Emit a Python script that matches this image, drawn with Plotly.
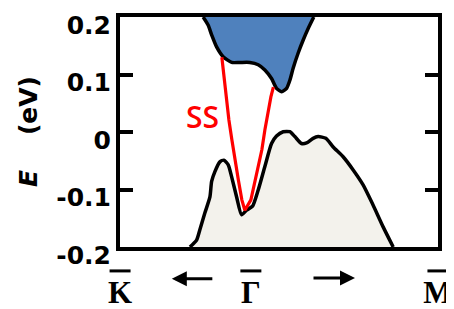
import plotly.graph_objects as go

# ---- data (k in arbitrary units with Gamma at 0, E in eV) ----
k_ticks = [-1.0, 0.0, 1.43]
k_labels = ["K", "Γ", "M"]
e_ticks = [-0.2, -0.1, 0.0, 0.1, 0.2]
e_labels = ["-0.2", "-0.1", "0", "0.1", "0.2"]

# bulk valence band edge
vb_k = [-0.466, -0.415, -0.390, -0.352, -0.313, -0.300, -0.275, -0.237, -0.206,
        -0.173, -0.147, -0.109, -0.071, -0.033, 0.013, 0.056, 0.107, 0.158,
        0.196, 0.247, 0.298, 0.336, 0.387, 0.426, 0.476, 0.514, 0.573, 0.629,
        0.705, 0.782, 0.858, 0.934, 1.011, 1.088]
vb_e = [-0.200, -0.188, -0.170, -0.141, -0.113, -0.086, -0.069, -0.052, -0.049,
        -0.057, -0.078, -0.113, -0.144, -0.136, -0.129, -0.101, -0.060, -0.020,
        -0.007, 0.0005, 0.0005, -0.008, -0.020, -0.019, -0.011, -0.008, -0.011,
        -0.026, -0.043, -0.066, -0.092, -0.127, -0.165, -0.200]

# bulk conduction band edge
cb_k = [-0.365, -0.327, -0.300, -0.262, -0.212, -0.147, -0.084, -0.008, 0.056,
        0.107, 0.158, 0.196, 0.235, 0.273, 0.298, 0.323, 0.361, 0.400, 0.438, 0.481]
cb_e = [0.200, 0.186, 0.169, 0.148, 0.131, 0.121, 0.121, 0.121, 0.117,
        0.108, 0.093, 0.076, 0.070, 0.076, 0.090, 0.111, 0.137, 0.160, 0.180, 0.200]

# surface state (SS)
ss_k = [-0.222, -0.195, -0.168, -0.145, -0.122, -0.096, -0.069, -0.050, -0.046,
        0.000, 0.023, 0.057, 0.084, 0.107, 0.130, 0.153, 0.172]
ss_e = [0.130, 0.073, 0.021, -0.014, -0.049, -0.083, -0.118, -0.134, -0.136,
        -0.118, -0.094, -0.063, -0.031, 0.0035, 0.035, 0.061, 0.078]

ss_label = "SS"

# page has an 8px body margin: compensate in the figure margins
W, H = 454, 309
OFF = 8
PL, PR, PT, PB = 120, 438, 17, 247   # desired plot-area edges in page pixels
ML, MT = PL - OFF, PT - OFF
MR, MB = W - (PR - OFF), H - (PB - OFF)
PW = PR - PL
xmin, xmax = k_ticks[0] - 0.0005, k_ticks[-1] + 0.0005


def kpaper(v):
    return (v - xmin) / (xmax - xmin)


fig = go.Figure()
fig.add_trace(go.Scatter(x=vb_k, y=vb_e, mode="lines", fill="toself",
                         fillcolor="#f3f2ec",
                         line=dict(color="black", width=3.5, shape="spline", smoothing=0.6),
                         hoverinfo="skip", showlegend=False))
fig.add_trace(go.Scatter(x=cb_k, y=cb_e, mode="lines", fill="toself",
                         fillcolor="#4f81bd",
                         line=dict(color="black", width=3.5, shape="spline", smoothing=0.6),
                         hoverinfo="skip", showlegend=False))
fig.add_trace(go.Scatter(x=ss_k, y=ss_e, mode="lines",
                         line=dict(color="#ff0000", width=3.2),
                         hoverinfo="skip", showlegend=False))

fig.update_layout(
    width=W, height=H,
    margin=dict(l=ML, r=MR, t=MT, b=MB, pad=0),
    plot_bgcolor="white", paper_bgcolor="white",
    showlegend=False,
)
fig.update_xaxes(
    range=[xmin, xmax], showgrid=False, zeroline=False, automargin=False,
    showline=True, linecolor="black", linewidth=4, mirror=True,
    tickvals=k_ticks, ticktext=k_labels, ticks="",
    tickfont=dict(family="Liberation Serif", size=31, color="black", weight="bold"),
    ticklabelstandoff=15,
)
fig.update_yaxes(
    range=[-0.2, 0.2], showgrid=False, zeroline=False, automargin=False,
    showline=True, linecolor="black", linewidth=4, mirror="ticks",
    tickvals=e_ticks, ticktext=e_labels, ticks="inside", ticklen=13, tickwidth=4,
    tickcolor="black",
    tickfont=dict(family="DejaVu Sans", size=25, color="black", weight="bold"),
    ticklabelshift=8, ticklabeloverflow="allow",
)

# overline bars above k labels
for v in k_ticks:
    c = kpaper(v)
    fig.add_shape(type="line", xref="paper", yref="paper",
                  x0=c - 0.033, x1=c + 0.033, y0=-0.104, y1=-0.104,
                  line=dict(color="black", width=3))

# direction arrows
fig.add_annotation(xref="paper", yref="paper", x=0.163, y=-0.138, ax=42, ay=0,
                   text="", showarrow=True, arrowhead=2, arrowsize=1, arrowwidth=3,
                   arrowcolor="black")
fig.add_annotation(xref="paper", yref="paper", x=0.739, y=-0.135, ax=-43, ay=0,
                   text="", showarrow=True, arrowhead=2, arrowsize=1, arrowwidth=3,
                   arrowcolor="black")

# SS label
fig.add_annotation(x=-0.367, y=0.027, text=ss_label, showarrow=False,
                   font=dict(family="Open Sans", size=30, color="#ff0000", weight=600))

# y-axis title
fig.add_annotation(xref="paper", yref="paper", x=(28 - PL) / PW, y=0.5,
                   xanchor="center", yanchor="middle",
                   text="<i>E</i>\u00a0\u00a0\u00a0\u00a0(eV)", textangle=-90, showarrow=False,
                   font=dict(family="DejaVu Sans", size=25, color="black", weight="bold"))

fig.write_html("out.html")
